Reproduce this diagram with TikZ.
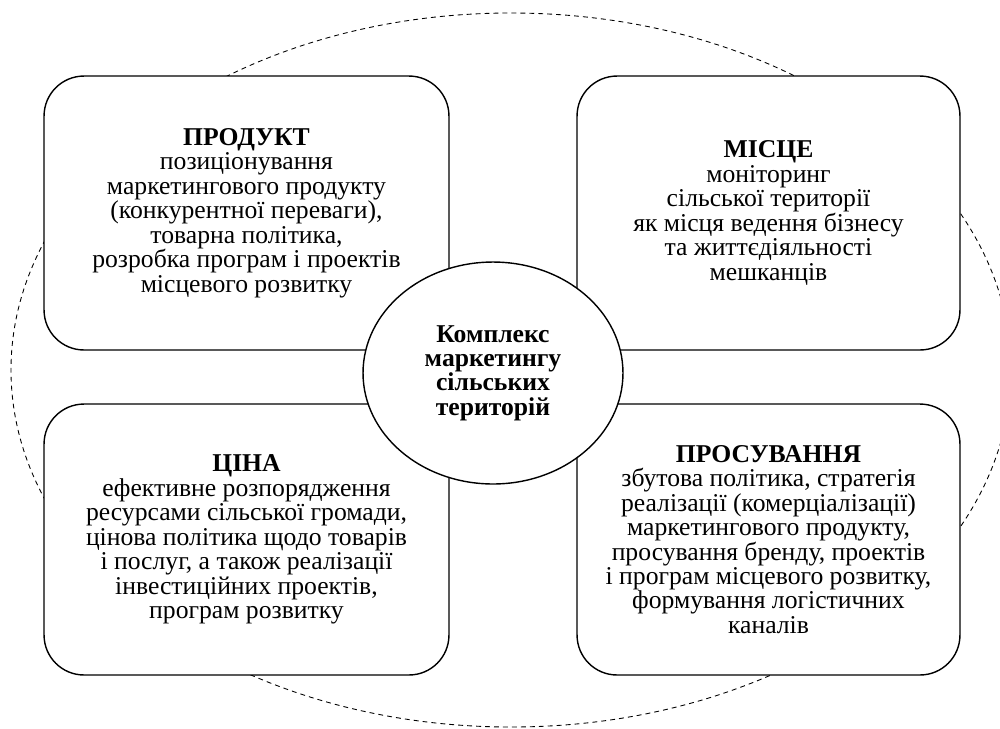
\documentclass[tikz,border=0pt]{standalone}
\usepackage{fontspec}
\setmainfont{Liberation Serif}
\usetikzlibrary{shapes.geometric}
\begin{document}
\begin{tikzpicture}[x=0.02cm,y=-0.02cm,
  txt/.style={font=\fontsize{14.6pt}{13.9pt}\selectfont, align=center},
  boxnode/.style={txt, draw, line width=0.8pt, fill=white, rounded corners=0.8cm, inner sep=0pt},
  hub/.style={txt, font=\fontsize{14.6pt}{13.9pt}\selectfont\bfseries, draw, line width=0.8pt, fill=white, ellipse, inner sep=0pt, minimum width=5.2cm, minimum height=4.44cm},
  outer/.style={line width=0.5pt, dash pattern=on 2.8pt off 2.3pt}
]
\useasboundingbox (0,0) rectangle (1000,728);
\begin{scope}
  \clip (0,0) rectangle (1000,728);
  \draw[outer] (511,370) ellipse [x radius=500, y radius=357];
\end{scope}

\node[boxnode, minimum width=8.1cm, minimum height=5.48cm] (prod) at (246.5,213)
  {\textbf{ПРОДУКТ}\\позиціонування\\маркетингового продукту\\(конкурентної переваги),\\товарна політика,\\розробка програм і проектів\\місцевого розвитку};
\node[boxnode, minimum width=7.66cm, minimum height=5.48cm] (place) at (768.5,213)
  {\textbf{МІСЦЕ}\\моніторинг\\сільської території\\як місця ведення бізнесу\\та життєдіяльності\\мешканців};
\node[boxnode, minimum width=8.1cm, minimum height=5.42cm] (price) at (246.5,539.5)
  {\textbf{ЦІНА}\\ефективне розпорядження\\ресурсами сільської громади,\\цінова політика щодо товарів\\і послуг, а також реалізації\\інвестиційних проектів,\\програм розвитку};
\node[boxnode, minimum width=7.66cm, minimum height=5.42cm] (promo) at (768.5,539.5)
  {\textbf{ПРОСУВАННЯ}\\збутова політика, стратегія\\реалізації (комерціалізації)\\маркетингового продукту,\\просування бренду, проектів\\і програм місцевого розвитку,\\формування логістичних\\каналів};

\node[hub] (hubnode) at (493,373) {Комплекс\\маркетингу\\сільських\\територій};
\end{tikzpicture}
\end{document}
